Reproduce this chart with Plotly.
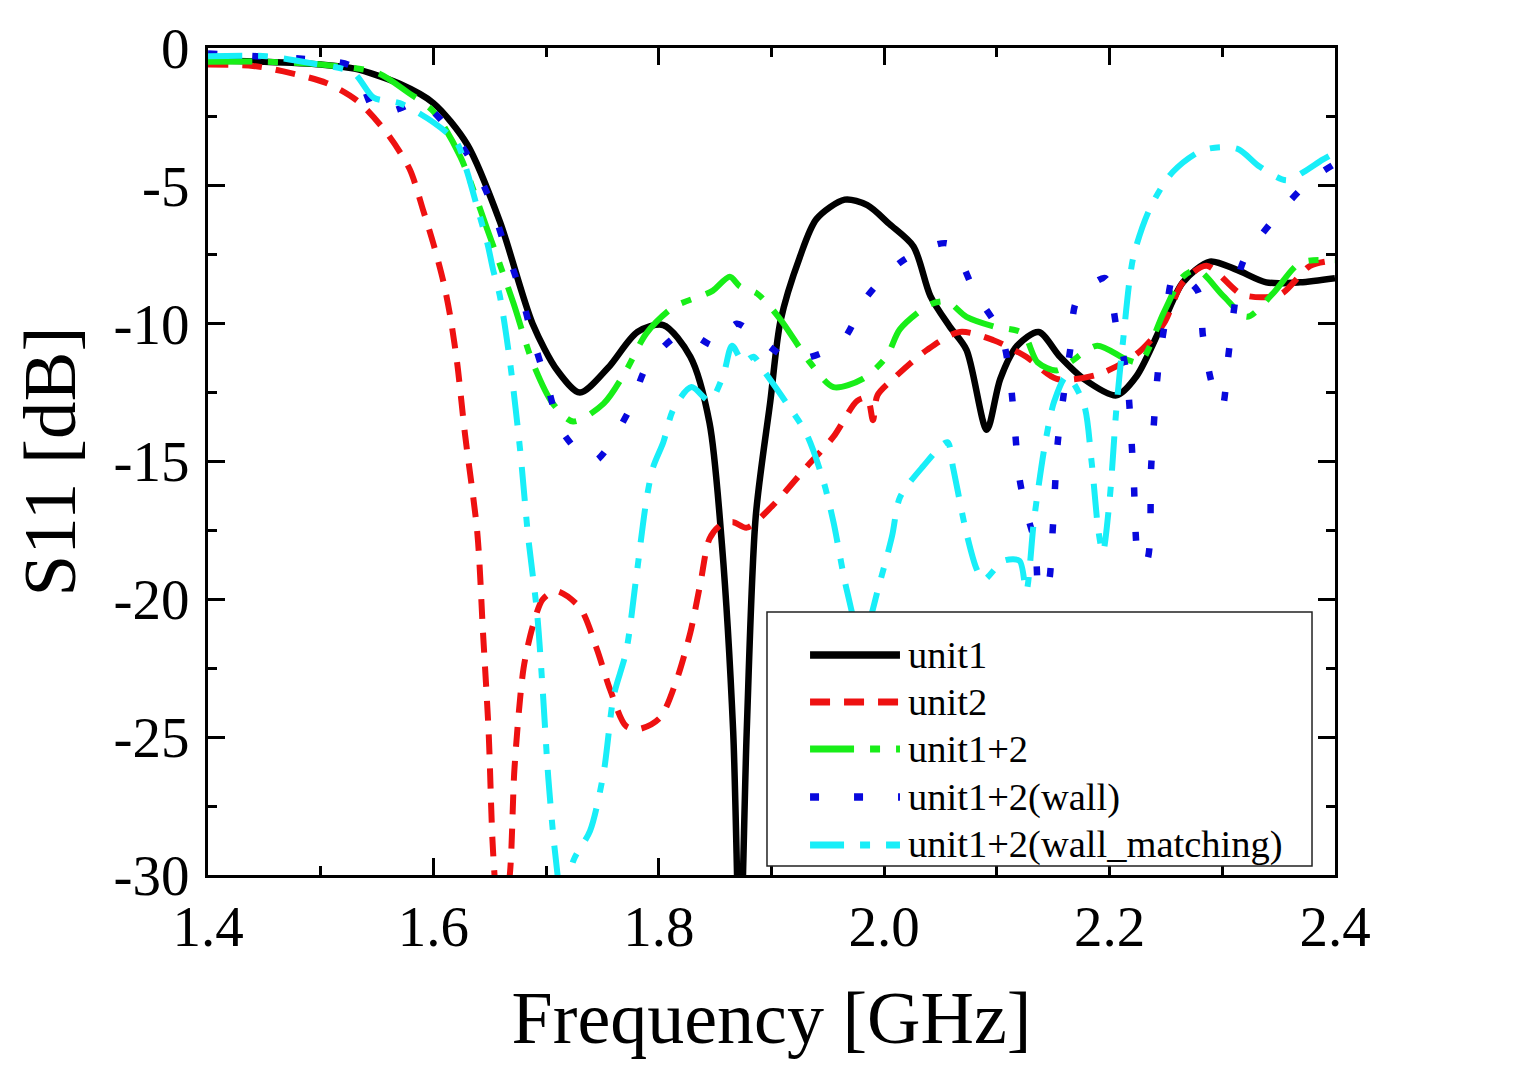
import plotly.graph_objects as go

# ---------------- data ----------------
f_unit1 = [1.40, 1.45, 1.50, 1.53, 1.57, 1.60, 1.63, 1.659, 1.688, 1.71, 1.730, 1.755, 1.781,
           1.804, 1.828, 1.845, 1.856, 1.866, 1.872, 1.878, 1.886, 1.899, 1.908, 1.925, 1.940,
           1.965, 1.985, 2.005, 2.026, 2.041, 2.058, 2.073, 2.091, 2.103, 2.118, 2.137, 2.156,
           2.177, 2.206, 2.224, 2.248, 2.265, 2.289, 2.313, 2.339, 2.369, 2.40]
s_unit1 = [-0.45, -0.5, -0.6, -0.75, -1.3, -2.0, -3.5, -6.3, -10.0, -11.7, -12.5, -11.6, -10.3,
           -10.05, -11.2, -13.6, -18.0, -24.8, -33.0, -24.8, -17.0, -12.8, -9.9, -7.6, -6.2,
           -5.5, -5.7, -6.4, -7.2, -9.0, -10.1, -10.95, -13.85, -12.0, -10.8, -10.3, -11.2,
           -12.0, -12.6, -11.9, -9.9, -8.5, -7.75, -8.05, -8.5, -8.5, -8.35]

f_unit2 = [1.40, 1.44, 1.467, 1.505, 1.532, 1.559, 1.579, 1.591, 1.600, 1.609, 1.615, 1.621,
           1.628, 1.639, 1.644, 1.649, 1.653, 1.660, 1.668, 1.672, 1.680, 1.688, 1.697, 1.709,
           1.730, 1.745, 1.757, 1.771, 1.783, 1.801, 1.816, 1.828, 1.837, 1.845, 1.855, 1.866,
           1.878, 1.901, 1.931, 1.955, 1.976, 1.985, 1.990, 1.994, 2.008, 2.038, 2.067, 2.097,
           2.126, 2.153, 2.189, 2.224, 2.248, 2.265, 2.286, 2.318, 2.351, 2.378, 2.40]
s_unit2 = [-0.6, -0.65, -0.85, -1.27, -1.9, -3.1, -4.4, -5.9, -7.1, -8.5, -9.75, -11.4,
           -14.0, -17.6, -21.2, -24.8, -29.2, -32.5, -29.9, -26.1, -22.5, -21.0, -20.0, -19.7,
           -20.3, -21.8, -23.3, -24.6, -24.7, -24.3, -22.9, -21.2, -19.4, -17.8, -17.3, -17.2,
           -17.4, -16.6, -15.2, -14.1, -12.8, -12.7, -13.5, -12.6, -12.0, -10.95, -10.3, -10.6,
           -11.2, -12.0, -11.85, -11.1, -10.0, -8.5, -7.9, -8.95, -8.95, -7.9, -7.7]

f_u12 = [1.40, 1.45, 1.50, 1.55, 1.577, 1.60, 1.624, 1.648, 1.671, 1.688, 1.706, 1.724, 1.751,
         1.771, 1.789, 1.813, 1.837, 1.848, 1.863, 1.872, 1.887, 1.908, 1.934, 1.955, 1.981,
         2.002, 2.014, 2.041, 2.056, 2.073, 2.097, 2.123, 2.136, 2.153, 2.165, 2.189, 2.215,
         2.227, 2.248, 2.265, 2.278, 2.301, 2.322, 2.345, 2.369, 2.40]
s_u12 = [-0.5, -0.5, -0.6, -0.9, -1.6, -2.3, -3.95, -6.6, -9.25, -11.4, -12.9, -13.55, -12.9,
         -11.7, -10.35, -9.4, -9.0, -8.8, -8.3, -8.65, -8.9, -9.85, -11.4, -12.3, -12.0,
         -11.2, -10.2, -9.3, -9.2, -9.75, -10.1, -10.35, -11.4, -11.7, -11.4, -10.8, -11.3,
         -11.4, -9.6, -8.3, -8.05, -9.0, -9.75, -8.9, -7.8, -7.7]

f_wall = [1.40, 1.443, 1.50, 1.529, 1.550, 1.570, 1.588, 1.626, 1.648, 1.662, 1.677, 1.688,
          1.701, 1.714, 1.742, 1.773, 1.790, 1.823, 1.850, 1.869, 1.882, 1.918, 1.961, 1.985,
          2.017, 2.057, 2.081, 2.104, 2.112, 2.116, 2.120, 2.126, 2.134, 2.138, 2.145, 2.149,
          2.154, 2.159, 2.165, 2.171, 2.196, 2.206, 2.215, 2.221, 2.227, 2.233, 2.237, 2.243,
          2.249, 2.258, 2.278, 2.283, 2.291, 2.300, 2.305, 2.310, 2.318, 2.342, 2.378, 2.40]
s_wall = [-0.2, -0.3, -0.45, -0.7, -2.4, -2.2, -1.95, -3.6, -5.3, -7.0, -8.8, -10.5,
          -12.2, -13.9, -15.0, -13.2, -11.5, -10.3, -10.8, -10.0, -10.3, -11.3, -10.7, -9.0,
          -7.7, -7.1, -8.9, -10.4, -12.1, -13.85, -15.6, -16.8, -18.0, -19.7, -19.5, -17.8,
          -14.3, -12.65, -10.95, -9.15, -8.35, -10.1, -11.8, -15.3, -18.7, -18.6, -15.1, -11.7,
          -10.0, -8.2, -8.8, -10.5, -12.2, -13.0, -11.3, -9.6, -7.8, -6.4, -4.8, -4.2]

f_wm = [1.40, 1.452, 1.491, 1.529, 1.547, 1.570, 1.600, 1.621, 1.630, 1.639, 1.648, 1.653,
        1.659, 1.668, 1.677, 1.684, 1.692, 1.697, 1.702, 1.708, 1.716, 1.724, 1.739, 1.751,
        1.760, 1.771, 1.780, 1.789, 1.795, 1.804, 1.813, 1.829, 1.845, 1.857, 1.865, 1.875,
        1.884, 1.893, 1.912, 1.931, 1.946, 1.955, 1.967, 1.980, 1.996, 2.007, 2.014, 2.034,
        2.056, 2.061, 2.073, 2.082, 2.088, 2.106, 2.120, 2.126, 2.133, 2.143, 2.151, 2.162,
        2.177, 2.184, 2.190, 2.194, 2.200, 2.206, 2.212, 2.221, 2.236, 2.256, 2.283, 2.313,
        2.333, 2.357, 2.372, 2.389, 2.40]
s_wm = [-0.3, -0.3, -0.55, -0.9, -1.8, -2.0, -2.7, -3.45, -4.5, -5.8, -7.1, -8.05,
        -9.0, -11.4, -14.6, -17.7, -20.5, -23.3, -26.5, -29.2, -31.5, -29.5, -28.4, -26.3,
        -23.5, -21.9, -19.2, -16.4, -15.2, -14.3, -13.1, -12.3, -12.8, -11.9, -10.8, -11.4,
        -11.2, -11.7, -12.8, -14.0, -15.7, -17.2, -19.7, -21.5, -19.4, -17.7, -16.3, -15.2,
        -14.3, -15.2, -17.6, -18.9, -19.3, -18.6, -18.6, -19.7, -17.1, -14.3, -12.8, -11.9,
        -12.9, -15.0, -17.5, -18.3, -16.4, -13.1, -10.6, -7.6, -5.8, -4.5, -3.7, -3.65,
        -4.3, -4.8, -4.5, -4.05, -3.8]

x_ticks = [1.4, 1.6, 1.8, 2.0, 2.2, 2.4]
x_ticktext = ["1.4", "1.6", "1.8", "2.0", "2.2", "2.4"]
y_ticks = [0, -5, -10, -15, -20, -25, -30]
y_ticktext = ["0", "-5", "-10", "-15", "-20", "-25", "-30"]

names = ["unit1", "unit2", "unit1+2", "unit1+2(wall)", "unit1+2(wall_matching)"]

# ---------------- figure ----------------
FONT = "Liberation Serif, Times New Roman, serif"
styles = [
    ("#000000", 6.5, "solid"),
    ("#ee1111", 6, "20px,14px"),
    ("#18ee18", 6, "44px,16px,10px,16px"),
    ("#0808dd", 6.5, "9px,35px"),
    ("#18eef8", 6, "34px,16px,10px,16px"),
]
xs = [f_unit1, f_unit2, f_u12, f_wall, f_wm]
ys = [s_unit1, s_unit2, s_u12, s_wall, s_wm]

fig = go.Figure()
for fx, sy, nm, (col, w, dash) in zip(xs, ys, names, styles):
    fig.add_trace(go.Scatter(
        x=fx, y=sy, name=nm, mode="lines", showlegend=False,
        line=dict(color=col, width=w, dash=dash, shape="spline", smoothing=0.8),
    ))

axis_common = dict(
    showline=True, mirror="ticks", linecolor="black", linewidth=3,
    ticks="inside", tickwidth=3, tickcolor="black", ticklen=17,
    showgrid=False, zeroline=False,
    tickfont=dict(family=FONT, size=57, color="black"),
)

fig.update_xaxes(
    range=[1.4, 2.4], tickvals=x_ticks, ticktext=x_ticktext,
    minor=dict(ticks="inside", ticklen=9, tickwidth=3, tickcolor="black", dtick=0.1, showgrid=False),
    title=dict(text="Frequency [GHz]", font=dict(family=FONT, size=74, color="black"), standoff=34),
    **axis_common,
)
fig.update_yaxes(
    range=[-30, 0], tickvals=y_ticks, ticktext=y_ticktext,
    minor=dict(ticks="inside", ticklen=9, tickwidth=3, tickcolor="black", dtick=2.5, showgrid=False),
    title=dict(text="S11 [dB]", font=dict(family=FONT, size=75, color="black"), standoff=15),
    ticklabelstandoff=4,
    **axis_common,
)

# ---------------- legend box (drawn in paper coordinates) ----------------
shapes = [dict(type="rect", xref="paper", yref="paper", x0=0.496, x1=0.9796, y0=0.0109, y1=0.318,
               line=dict(color="#222222", width=1.5), fillcolor="white", layer="above")]
annotations = []
row_y = [0.2660, 0.2092, 0.1524, 0.0943, 0.0363]
for nm, (col, w, dash), yy in zip(names, styles, row_y):
    shapes.append(dict(type="line", xref="paper", yref="paper", x0=0.5342, x1=0.6140, y0=yy, y1=yy,
                       line=dict(color=col, width=w + 1, dash=dash), layer="above"))
    annotations.append(dict(xref="paper", yref="paper", x=0.6193, y=yy, xanchor="left",
                            yanchor="middle", text=nm, showarrow=False,
                            font=dict(family=FONT, size=38.5, color="black")))

fig.update_layout(
    width=1526, height=1066,
    margin=dict(l=200, r=199, t=40, b=199, autoexpand=False),
    paper_bgcolor="white", plot_bgcolor="white",
    shapes=shapes, annotations=annotations,
    showlegend=False,
)

fig.write_html("out.html")
